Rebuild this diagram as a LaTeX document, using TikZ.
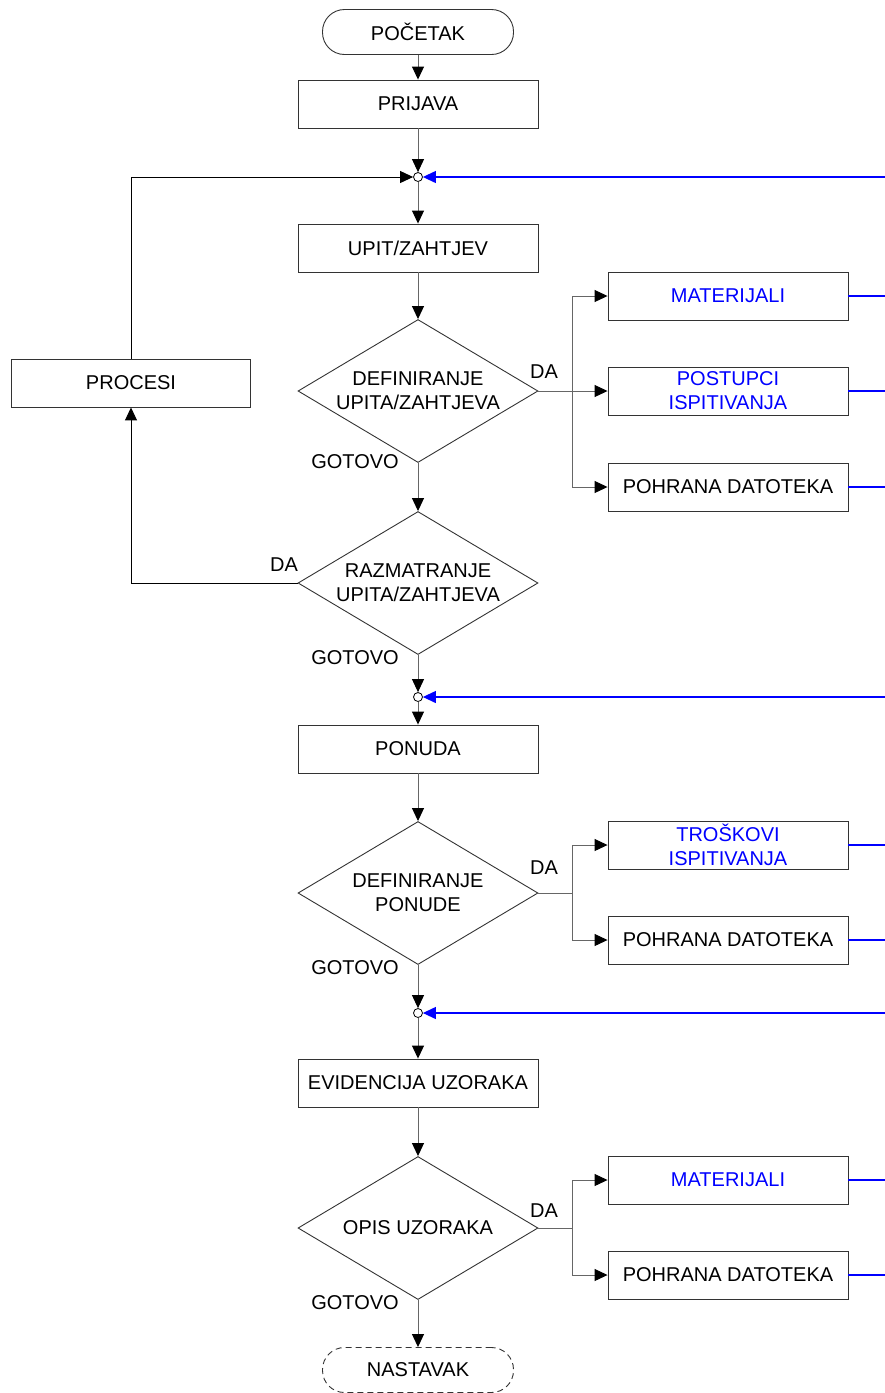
\documentclass[tikz,border=0pt]{standalone}
\usepackage{fontspec}
\setmainfont{Liberation Sans}
\usetikzlibrary{shapes.geometric,arrows.meta}
\begin{document}
\begin{tikzpicture}[x=1pt,y=-1pt,
  every node/.style={font=\fontsize{20}{24}\selectfont},
  box/.style={draw=black!80, line width=0.9pt, minimum width=240pt, minimum height=48pt, inner sep=0pt, align=center},
  term/.style={draw=black!80, line width=0.9pt, rounded corners=22pt, minimum width=191pt, minimum height=45pt, inner sep=0pt},
  dia/.style={diamond, draw=black!80, line width=0.9pt, minimum width=240pt, minimum height=143pt, inner sep=0pt},
  txt/.style={align=center, inner sep=0pt},
  lbl/.style={inner sep=0pt},
  jn/.style={circle, draw=black, line width=0.8pt, fill=white, minimum size=9pt, inner sep=0pt},
  flow/.style={draw=black!60, line width=1pt, -{Triangle[length=13pt,width=12pt,color=black]}},
  loop/.style={draw=black, line width=1pt, -{Triangle[length=13pt,width=12pt,color=black]}},
  blueflow/.style={draw=blue, line width=1.2pt, -{Triangle[length=13pt,width=12pt,color=blue]}},
  blueline/.style={draw=blue, line width=1.2pt}
]
\useasboundingbox (0,0) rectangle (885,1393);
\coordinate (rim) at (885,0);

% main column
\node[term] (start) at (418,32) {POČETAK};
\node[box] (prijava) at (418,104) {PRIJAVA};
\node[jn] (j1) at (418,177) {};
\node[box] (upit) at (418,248) {UPIT/ZAHTJEV};
\node[dia] (d1) at (418,391) {};
\node[txt] (d1t) at (d1) {DEFINIRANJE\\UPITA/ZAHTJEVA};
\node[dia] (d2) at (418,583) {};
\node[txt] (d2t) at (d2) {RAZMATRANJE\\UPITA/ZAHTJEVA};
\node[jn] (j2) at (418,697) {};
\node[box] (ponuda) at (418,749) {PONUDA};
\node[dia] (d3) at (418,893) {};
\node[txt] (d3t) at (d3) {DEFINIRANJE\\PONUDE};
\node[jn] (j3) at (418,1013) {};
\node[box] (evid) at (418,1083) {EVIDENCIJA UZORAKA};
\node[dia] (d4) at (418,1228) {};
\node[txt] (d4t) at (d4) {OPIS UZORAKA};
\node[term, dash pattern=on 6pt off 4pt] (kraj) at (418,1370) {NASTAVAK};

% side boxes
\node[box, minimum width=239pt] (proc) at (131,383) {PROCESI};
\node[box, text=blue] (mat1) at (728,296) {MATERIJALI};
\node[box, text=blue] (post) at (728,391) {POSTUPCI\\ISPITIVANJA};
\node[box] (poh1) at (728,487) {POHRANA DATOTEKA};
\node[box, text=blue] (tros) at (728,845) {TROŠKOVI\\ISPITIVANJA};
\node[box] (poh2) at (728,940) {POHRANA DATOTEKA};
\node[box, text=blue] (mat2) at (728,1180) {MATERIJALI};
\node[box] (poh3) at (728,1275) {POHRANA DATOTEKA};

% labels
\node[lbl] (da1) at (544,372) {DA};
\node[lbl] (go1) at (355,462) {GOTOVO};
\node[lbl] (da2) at (284,565) {DA};
\node[lbl] (go2) at (355,658) {GOTOVO};
\node[lbl] (da3) at (544,868) {DA};
\node[lbl] (go3) at (355,968) {GOTOVO};
\node[lbl] (da4) at (544,1211) {DA};
\node[lbl] (go4) at (355,1303) {GOTOVO};

% edge coordinates
\coordinate (e1) at (885,177);
\coordinate (e2) at (885,697);
\coordinate (e3) at (885,1013);

% main flow
\draw[flow] (start) -- (prijava);
\draw[flow] (prijava) -- (j1);
\draw[flow] (j1) -- (upit);
\draw[flow] (upit) -- (d1);
\draw[flow] (d1) -- (d2);
\draw[flow] (d2) -- (j2);
\draw[flow] (j2) -- (ponuda);
\draw[flow] (ponuda) -- (d3);
\draw[flow] (d3) -- (j3);
\draw[flow] (j3) -- (evid);
\draw[flow] (evid) -- (d4);
\draw[flow] (d4) -- (kraj);

% loop
\draw[loop] (proc.north) |- (j1.west);
\draw[loop] (d2.west) -| (proc.south);

% incoming blue
\draw[blueflow] (e1) -- (j1);
\draw[blueflow] (e2) -- (j2);
\draw[blueflow] (e3) -- (j3);

% branches
\draw[flow] (d1.east) -- ++(34,0) |- (mat1.west);
\draw[flow] (d1.east) -- (post.west);
\draw[flow] (d1.east) -- ++(34,0) |- (poh1.west);
\draw[flow] (d3.east) -- ++(34,0) |- (tros.west);
\draw[flow] (d3.east) -- ++(34,0) |- (poh2.west);
\draw[flow] (d4.east) -- ++(34,0) |- (mat2.west);
\draw[flow] (d4.east) -- ++(34,0) |- (poh3.west);

% outgoing blue
\foreach \b in {mat1,post,poh1,tros,poh2,mat2,poh3}
  \draw[blueline] (\b.east) -- (\b.east -| rim);
\end{tikzpicture}
\end{document}
